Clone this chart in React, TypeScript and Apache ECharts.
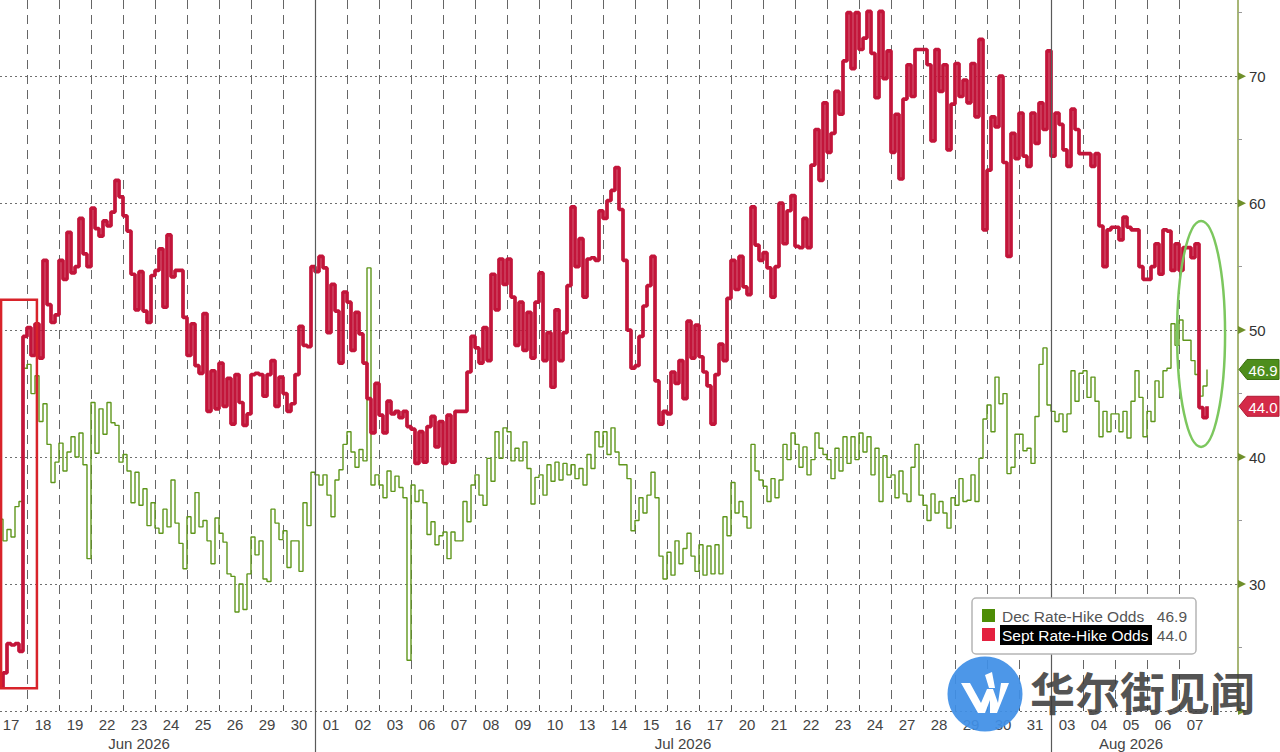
import React, { useEffect, useRef } from "react";
import * as echarts from "echarts";

// ---------- data ----------
const DAYS = [
  "17", "18", "19", "22", "23", "24", "25", "26", "29", "30",
  "01", "02", "03", "06", "07", "08", "09", "10", "13", "14", "15", "16", "17",
  "20", "21", "22", "23", "24", "27", "28", "29", "30", "31",
  "03", "04", "05", "06", "07",
];
const MONTHS = ["Jun 2026", "Jul 2026", "Aug 2026"];
// category index range [start, end) of each month (Jun begins before the visible window)
const MONTH_SPANS = [[-1, 10], [10, 33], [33, 38]];
const Y_LABELS = [30, 40, 50, 60, 70];
const Y_MARKS = [20, 30, 40, 50, 60, 70];

const SERIES_NAMES = ["Dec Rate-Hike Odds", "Sept Rate-Hike Odds"];
const LAST_VALUES = [46.9, 44.0];

// intraday samples, 8 per trading day
const SEPT_ODDS: number[][] = [
  [24.2, 21.9, 23.0, 25.3, 25.2, 25.3, 24.7, 49.5],
  [50.2, 48.0, 50.5, 47.8, 55.5, 52.0, 50.6, 51.2],
  [55.5, 54.0, 57.7, 54.5, 55.0, 58.8, 56.0, 55.0],
  [59.6, 58.0, 57.4, 58.6, 58.2, 59.3, 61.8, 60.5],
  [59.0, 57.8, 54.4, 51.6, 54.6, 51.5, 50.6, 54.3],
  [54.7, 56.4, 51.8, 57.5, 54.2, 54.7, 54.7, 51.0],
  [48.0, 50.5, 47.2, 46.6, 51.3, 43.6, 46.8, 43.8],
  [47.4, 44.0, 46.2, 42.6, 46.5, 44.3, 42.5, 43.4],
  [46.5, 46.6, 46.5, 44.8, 46.5, 47.6, 44.0, 46.3],
  [45.0, 43.6, 44.2, 46.5, 50.3, 48.8, 48.7, 55.0],
  [54.6, 55.8, 54.9, 49.8, 53.6, 51.5, 47.4, 53.0],
  [52.2, 48.4, 51.4, 49.7, 47.4, 44.6, 41.9, 45.8],
  [43.3, 41.9, 44.4, 43.4, 43.6, 43.1, 43.6, 42.4],
  [42.2, 39.5, 42.0, 39.6, 42.4, 43.2, 40.8, 42.8],
  [39.5, 43.3, 39.6, 43.6, 43.6, 43.6, 46.7, 49.5],
  [48.6, 47.4, 50.2, 47.6, 54.4, 51.6, 55.6, 53.6],
  [55.6, 52.6, 48.8, 52.2, 48.4, 51.4, 47.8, 52.2],
  [54.5, 47.6, 49.8, 45.5, 51.6, 47.6, 49.8, 53.5],
  [59.7, 55.0, 57.2, 52.6, 55.6, 55.7, 55.5, 59.4],
  [58.8, 60.2, 61.0, 62.8, 59.5, 55.5, 50.0, 47.0],
  [47.2, 49.5, 51.9, 53.5, 55.8, 46.0, 42.6, 43.6],
  [43.4, 46.7, 45.8, 47.6, 44.6, 50.7, 47.8, 50.4],
  [47.9, 46.7, 45.6, 42.6, 46.5, 48.9, 47.6, 52.5],
  [55.5, 53.2, 55.8, 53.4, 52.8, 59.7, 56.7, 55.5],
  [56.1, 54.9, 52.6, 55.0, 60.0, 56.8, 59.4, 60.6],
  [56.6, 56.5, 58.8, 56.5, 63.0, 65.8, 61.8, 67.9],
  [64.0, 65.5, 68.8, 67.0, 71.2, 75.0, 70.6, 75.0],
  [72.1, 73.0, 75.1, 71.8, 68.3, 75.1, 69.8, 72.0],
  [64.0, 67.0, 61.9, 68.2, 70.9, 68.4, 72.1, 72.1],
  [72.1, 70.9, 64.9, 72.1, 68.8, 70.9, 64.2, 67.8],
  [71.0, 68.4, 69.7, 67.9, 71.0, 66.8, 72.9, 57.9],
  [62.6, 66.8, 66.0, 70.0, 63.2, 55.8, 65.5, 63.5],
  [67.1, 63.7, 62.9, 67.1, 64.7, 67.9, 65.8, 72.0],
  [63.7, 67.1, 66.2, 64.2, 62.9, 67.4, 65.8, 63.9],
  [63.9, 63.9, 62.9, 63.9, 58.2, 55.0, 57.9, 58.1],
  [58.1, 57.1, 58.9, 58.1, 57.9, 57.9, 55.0, 54.0],
  [54.0, 55.0, 56.8, 54.4, 57.9, 57.8, 54.7, 56.8],
  [54.7, 56.5, 56.5, 55.7, 56.8, 43.9, 43.1, 44.0],
];

const DEC_ODDS: number[][] = [
  [34.0, 35.1, 33.4, 34.3, 33.7, 36.1, 36.5, 47.0],
  [47.3, 45.0, 46.4, 42.8, 44.2, 41.0, 38.0, 39.6],
  [41.1, 38.9, 40.4, 41.6, 40.0, 41.9, 39.4, 32.0],
  [44.3, 40.3, 43.8, 41.8, 44.3, 42.7, 42.5, 39.6],
  [40.2, 38.9, 36.4, 38.8, 36.2, 37.5, 34.6, 36.4],
  [34.4, 34.0, 35.9, 34.5, 38.2, 34.8, 33.2, 31.2],
  [35.3, 34.0, 37.2, 34.5, 35.0, 33.4, 31.6, 35.2],
  [34.0, 33.3, 30.8, 30.6, 27.8, 30.0, 28.0, 30.8],
  [33.7, 32.3, 33.4, 30.4, 30.2, 35.9, 34.8, 33.5],
  [34.2, 31.3, 33.4, 33.4, 31.0, 36.4, 34.6, 38.8],
  [38.6, 37.8, 38.6, 37.0, 35.3, 38.2, 39.0, 41.0],
  [42.0, 40.4, 39.2, 40.6, 39.7, 54.9, 37.8, 38.6],
  [37.8, 36.8, 38.9, 37.3, 38.5, 37.6, 36.8, 24.0],
  [37.8, 36.5, 37.4, 36.4, 33.9, 34.9, 33.1, 33.8],
  [34.1, 32.0, 34.1, 33.4, 33.4, 36.5, 34.9, 37.8],
  [38.6, 37.0, 36.2, 39.9, 38.1, 42.0, 39.9, 42.3],
  [42.0, 39.7, 40.7, 39.7, 41.2, 39.1, 36.3, 38.4],
  [38.6, 37.0, 39.4, 38.1, 39.6, 38.2, 39.5, 38.6],
  [39.4, 38.3, 39.1, 37.8, 40.2, 39.1, 42.0, 40.8],
  [42.0, 40.2, 42.3, 40.4, 39.4, 39.4, 38.3, 34.2],
  [35.0, 36.8, 35.6, 37.0, 38.8, 36.8, 32.2, 30.4],
  [32.5, 30.7, 33.4, 31.6, 32.8, 34.0, 32.2, 31.0],
  [33.1, 30.7, 33.0, 30.8, 33.1, 30.8, 35.3, 33.8],
  [38.0, 35.6, 36.5, 35.3, 34.4, 41.0, 38.9, 38.2],
  [37.7, 36.5, 38.3, 36.8, 38.2, 41.0, 39.8, 41.9],
  [41.0, 39.2, 40.8, 38.6, 39.8, 41.9, 40.7, 40.2],
  [39.8, 38.3, 40.7, 38.9, 41.6, 39.5, 41.6, 39.8],
  [41.9, 40.4, 41.6, 38.6, 40.7, 36.5, 40.1, 38.4],
  [38.6, 36.8, 38.9, 37.1, 36.5, 39.2, 41.0, 37.0],
  [36.2, 35.0, 37.1, 35.6, 36.5, 35.6, 34.4, 36.8],
  [36.2, 38.3, 36.5, 36.6, 38.6, 36.5, 39.9, 43.0],
  [44.1, 42.0, 46.3, 44.2, 45.0, 38.7, 39.2, 41.8],
  [41.8, 40.5, 40.7, 39.5, 43.2, 47.3, 48.6, 44.1],
  [43.6, 42.8, 43.4, 42.0, 43.4, 46.8, 44.4, 46.6],
  [46.8, 44.7, 46.3, 44.4, 41.6, 43.6, 42.0, 43.4],
  [43.4, 42.0, 43.6, 41.5, 44.4, 46.8, 44.7, 41.6],
  [43.6, 42.8, 46.0, 44.7, 46.8, 47.0, 50.5, 48.8],
  [50.8, 49.2, 49.2, 47.6, 46.5, 44.8, 45.6, 46.9],
];

// annotation anchors in data coordinates (day index, value)
const RED_BOX = { x0: 0.19, x1: 1.31, y0: 52.4, y1: 21.8 };
const GREEN_OVAL = { cx: 37.69, cy: 49.7, rx: 0.75, ry: 8.9 };

// ---------- styles ----------
const DEC_COLOR = "#5f961c";
const SEPT_COLOR = "#c2153a";
const DEC_SWATCH = "#4d8c06";
const SEPT_SWATCH = "#e3213f";
const AXIS_GREEN = "#8a9e48";
const LABEL_FONT = "Liberation Sans, Arial, sans-serif";

const toPoints = (days: number[][]) =>
  days.flatMap((vals, k) => vals.map((v, j) => [k + j / vals.length, v]));

// the chart canvas starts SHIFT px left of the page so that the first (partial) day fits
const SHIFT = 5;

export default function App() {
  const ref = useRef<HTMLDivElement>(null);

  useEffect(() => {
    const el = ref.current!;
    const chart = echarts.init(el, null, { renderer: "svg" });
    const W = 1280 + SHIFT;
    const H = 752;
    const P = (pageX: number) => pageX + SHIFT; // page x -> chart x
    const plotRight = P(1238);
    const plotBottom = 711;
    const dayW = 32;

    const option: any = {
      animation: false,
      backgroundColor: "#ffffff",
      grid: [
        { left: 0, right: W - plotRight, top: 0, bottom: H - plotBottom },
        { left: 0, right: W - dayW * DAYS.length, top: 0, bottom: H - plotBottom },
      ],
      xAxis: [
        {
          type: "value",
          gridIndex: 0,
          min: 0,
          max: plotRight / dayW,
          show: false,
        },
        {
          type: "category",
          gridIndex: 1,
          data: DAYS,
          boundaryGap: true,
          axisLine: { show: false },
          axisTick: { show: true, inside: true, length: 5, lineStyle: { color: "#555", width: 1 } },
          axisLabel: {
            interval: 0,
            color: "#444",
            fontSize: 15,
            fontFamily: LABEL_FONT,
            margin: 6,
          },
          splitLine: {
            show: true,
            showMinLine: false,
            showMaxLine: false,
            lineStyle: { type: [9, 6], color: "#666666", width: 1 },
          },
        },
      ],
      yAxis: [
        {
          type: "value",
          gridIndex: 0,
          position: "right",
          min: 20,
          max: 76,
          interval: 10,
          axisLine: { show: true, onZero: false, lineStyle: { color: AXIS_GREEN, width: 1.5 } },
          axisTick: { show: false },
          minorTick: { show: true, splitNumber: 2, length: 4, lineStyle: { color: "#999" } },
          axisLabel: {
            color: "#333",
            fontSize: 15,
            fontFamily: LABEL_FONT,
            margin: 11,
            formatter: (v: number) => (Y_LABELS.includes(v) ? String(v) : ""),
          },
          splitLine: {
            show: true,
            showMaxLine: false,
            lineStyle: { type: [2, 3], color: "#6f6f6f", width: 1 },
          },
        },
        { type: "value", gridIndex: 1, show: false, min: 0, max: 1 },
      ],
      series: [
        {
          name: SERIES_NAMES[0],
          type: "line",
          xAxisIndex: 0,
          yAxisIndex: 0,
          data: toPoints(DEC_ODDS),
          step: "end",
          showSymbol: false,
          symbol: "none",
          lineStyle: { color: DEC_COLOR, width: 1.4 },
          z: 3,
        },
        {
          name: SERIES_NAMES[1],
          type: "line",
          xAxisIndex: 0,
          yAxisIndex: 0,
          data: toPoints(SEPT_ODDS),
          step: "end",
          showSymbol: false,
          symbol: "none",
          lineStyle: { color: SEPT_COLOR, width: 3.7 },
          z: 4,
        },
      ],
    };
    chart.setOption(option);

    const px = (x: number, y: number) =>
      chart.convertToPixel({ xAxisIndex: 0, yAxisIndex: 0 }, [x, y]) as number[];

    const elements: any[] = [];

    // month separators and month labels
    MONTH_SPANS.forEach(([s, e], i) => {
      if (i > 0) {
        const x = Math.round(px(s, 50)[0]) + 0.5;
        elements.push({
          type: "line",
          z: 50,
          shape: { x1: x, y1: 0, x2: x, y2: H },
          style: { stroke: "#5a5a5a", lineWidth: 1.2 },
        });
      }
      const cx = px((s + e) / 2, 50)[0];
      elements.push({
        type: "text",
        z: 50,
        style: {
          text: MONTHS[i],
          x: cx,
          y: 743,
          fill: "#444",
          font: `15px ${LABEL_FONT}`,
          textAlign: "center",
          textVerticalAlign: "middle",
        },
      });
    });

    // y axis triangle markers
    Y_MARKS.forEach((v) => {
      const y = px(0, v)[1];
      elements.push({
        type: "polygon",
        z: 50,
        shape: { points: [[plotRight, y - 4], [plotRight + 8, y], [plotRight, y + 4]] },
        style: { fill: "#6f8f2a" },
      });
    });

    // red box annotation
    {
      const a = px(RED_BOX.x0, RED_BOX.y0);
      const b = px(RED_BOX.x1, RED_BOX.y1);
      elements.push({
        type: "rect",
        z: 60,
        shape: { x: a[0], y: a[1], width: b[0] - a[0], height: b[1] - a[1] },
        style: { fill: "none", stroke: "#d8232a", lineWidth: 2.5 },
      });
    }

    // green oval annotation
    {
      const c = px(GREEN_OVAL.cx, GREEN_OVAL.cy);
      const r = px(GREEN_OVAL.cx + GREEN_OVAL.rx, GREEN_OVAL.cy + GREEN_OVAL.ry);
      elements.push({
        type: "ellipse",
        z: 60,
        shape: { cx: c[0], cy: c[1], rx: r[0] - c[0], ry: c[1] - r[1] },
        style: { fill: "none", stroke: "#7cc75e", lineWidth: 2.5 },
      });
    }

    // last value tags
    const tagColors = [
      { fill: "#4e8e1c", stroke: "#3a6e10" },
      { fill: "#d42a48", stroke: "#b01a35" },
    ];
    LAST_VALUES.forEach((v, i) => {
      const y = px(0, v)[1];
      elements.push({
        type: "polygon",
        z: 70,
        shape: {
          points: [
            [plotRight + 1, y],
            [plotRight + 9, y - 10],
            [W - 1, y - 10],
            [W - 1, y + 10],
            [plotRight + 9, y + 10],
          ],
        },
        style: { fill: tagColors[i].fill, stroke: tagColors[i].stroke, lineWidth: 1 },
      });
      elements.push({
        type: "text",
        z: 71,
        style: {
          text: v.toFixed(1),
          x: plotRight + 25,
          y: y + 1,
          fill: "#ffffff",
          font: `15px ${LABEL_FONT}`,
          textAlign: "center",
          textVerticalAlign: "middle",
        },
      });
    });

    // legend box
    const lx = P(972);
    const ly = 598;
    elements.push({
      type: "rect",
      z: 80,
      shape: { x: lx, y: ly, width: 224, height: 56, r: 4 },
      style: { fill: "#ffffff", stroke: "#b5b5b5", lineWidth: 1.5 },
    });
    const swatches = [DEC_SWATCH, SEPT_SWATCH];
    SERIES_NAMES.forEach((name, i) => {
      const cy = ly + 18 + i * 19;
      elements.push({
        type: "rect",
        z: 81,
        shape: { x: lx + 10, y: cy - 7, width: 13, height: 13 },
        style: { fill: swatches[i] },
      });
      if (i === 1) {
        elements.push({
          type: "rect",
          z: 81,
          shape: { x: lx + 28, y: cy - 10, width: 152, height: 20 },
          style: { fill: "#000000" },
        });
      }
      elements.push({
        type: "text",
        z: 82,
        style: {
          text: name,
          x: lx + 30,
          y: cy,
          fill: i === 1 ? "#ffffff" : "#555555",
          font: `15.5px ${LABEL_FONT}`,
          textAlign: "left",
          textVerticalAlign: "middle",
        },
      });
      elements.push({
        type: "text",
        z: 82,
        style: {
          text: LAST_VALUES[i].toFixed(1),
          x: lx + 215,
          y: cy,
          fill: "#555555",
          font: `15.5px ${LABEL_FONT}`,
          textAlign: "right",
          textVerticalAlign: "middle",
        },
      });
    });

    // watermark
    elements.push({
      type: "circle",
      z: 90,
      shape: { cx: P(985), cy: 694, r: 37.5 },
      style: { fill: "#3f8fe6", opacity: 0.93 },
    });
    const wPts = [
      [961, 683], [970, 683], [981, 703], [987, 689], [993, 689],
      [998, 703], [1001, 683], [1009, 683], [997, 713], [990, 713],
      [990, 700], [985, 713], [978, 713],
    ];
    elements.push({
      type: "polygon",
      z: 91,
      shape: { points: wPts.map(([x, y]) => [P(x), y]) },
      style: { fill: "#ffffff" },
    });
    const tick = [[985, 675], [992, 672], [995, 688], [989, 688]];
    elements.push({
      type: "polygon",
      z: 91,
      shape: { points: tick.map(([x, y]) => [P(x), y]) },
      style: { fill: "#ffffff" },
    });
    elements.push({
      type: "text",
      z: 90,
      style: {
        text: "华尔街见闻",
        x: P(1030),
        y: 691,
        fill: "rgba(60,60,60,0.88)",
        font: `bold 45px "Noto Sans CJK SC", sans-serif`,
        textAlign: "left",
        textVerticalAlign: "middle",
      },
    });

    chart.setOption({ graphic: { elements } });

    return () => {
      chart.dispose();
    };
  }, []);

  return (
    <div
      ref={ref}
      style={{
        position: "absolute",
        left: -SHIFT,
        top: 0,
        width: 1280 + SHIFT,
        height: 752,
        background: "#fff",
      }}
    />
  );
}
